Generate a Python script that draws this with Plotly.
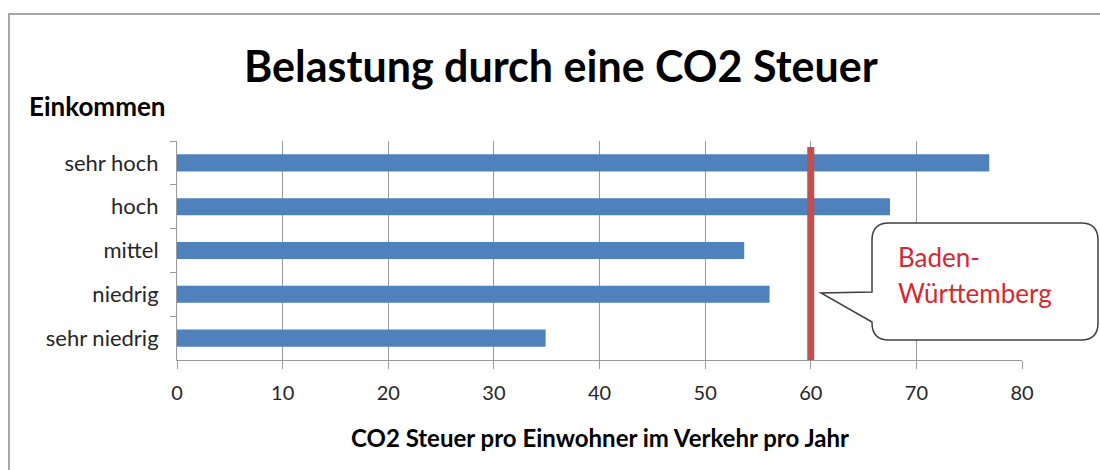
import plotly.graph_objects as go

# Income groups, top to bottom, and CO2 tax per inhabitant (transport, per year)
income_groups = ["sehr hoch", "hoch", "mittel", "niedrig", "sehr niedrig"]
co2_tax = [76.9, 67.5, 53.7, 56.1, 34.9]

# Reference value for the state average
bw_label = ["Baden-", "Württemberg"]
bw_value = 60

x_ticks = [0, 10, 20, 30, 40, 50, 60, 70, 80]

W, H = 1100, 470
L, R, T, B = 177, 78, 141, 110
PW, PH = W - L - R, H - T - B

FONT = "Lato"
BAR_BLUE = "#4f81bd"
LINE_RED = "#c0504d"
GRID = "#9a9a9a"


def px(x):
    return (x - L) / PW


def py(y):
    return (H - B - y) / PH


fig = go.Figure()
fig.add_trace(go.Bar(
    x=co2_tax, y=income_groups, orientation="h",
    marker=dict(color=BAR_BLUE, line=dict(width=0)),
    width=0.39, hoverinfo="x+y",
))

shapes = []

# outer chart frame
shapes.append(dict(type="rect", xref="paper", yref="paper",
                   x0=px(9), x1=px(1110), y0=py(14), y1=py(480),
                   line=dict(color="#a6a6a6", width=2), fillcolor="rgba(0,0,0,0)",
                   layer="below"))

# vertical reference line at the state value
shapes.append(dict(type="line", xref="x", yref="paper",
                   x0=bw_value, x1=bw_value, y0=0, y1=py(147),
                   line=dict(color=LINE_RED, width=7), layer="above"))

# speech-bubble callout
bx0, bx1, by0, by1, r = 872, 1098, 223, 340, 17
tip_y0, tip_y1, tip = 292, 322, (821, 293)
pts = [
    ("M", bx0 + r, by0),
    ("L", bx1 - r, by0),
    ("Q", bx1, by0, bx1, by0 + r),
    ("L", bx1, by1 - r),
    ("Q", bx1, by1, bx1 - r, by1),
    ("L", bx0 + r, by1),
    ("Q", bx0, by1, bx0, by1 - r),
    ("L", bx0, tip_y1),
    ("L", tip[0], tip[1]),
    ("L", bx0, tip_y0),
    ("L", bx0, by0 + r),
    ("Q", bx0, by0, bx0 + r, by0),
]
path = ""
for p in pts:
    cmd, coords = p[0], p[1:]
    xy = []
    for i in range(0, len(coords), 2):
        xy.append(f"{px(coords[i]):.5f},{py(coords[i + 1]):.5f}")
    path += cmd + " ".join(xy) + " "
path += "Z"
shapes.append(dict(type="path", xref="paper", yref="paper", path=path,
                   fillcolor="white", line=dict(color="#404040", width=1.5),
                   layer="above"))

annotations = [
    dict(text="<b>Belastung durch eine CO2 Steuer</b>", x=px(561), y=py(66),
         xref="paper", yref="paper", showarrow=False,
         font=dict(family=FONT, size=43, color="black"),
         xanchor="center", yanchor="middle"),
    dict(text="<b>Einkommen</b>", x=px(27), y=py(106),
         xref="paper", yref="paper", showarrow=False,
         font=dict(family=FONT, size=26, color="black"),
         xanchor="left", yanchor="middle"),
    dict(text="<b>CO2 Steuer pro Einwohner im Verkehr pro Jahr</b>", x=px(600), y=py(437),
         xref="paper", yref="paper", showarrow=False,
         font=dict(family=FONT, size=24, color="black"),
         xanchor="center", yanchor="middle"),
    dict(text=bw_label[0], x=px(896), y=py(257),
         xref="paper", yref="paper", showarrow=False,
         font=dict(family=FONT, size=26, color="#d7282f"),
         xanchor="left", yanchor="middle"),
    dict(text=bw_label[1], x=px(896), y=py(293),
         xref="paper", yref="paper", showarrow=False,
         font=dict(family=FONT, size=26, color="#d7282f"),
         xanchor="left", yanchor="middle"),
]

fig.update_layout(
    width=W, height=H,
    margin=dict(l=L, r=R, t=T, b=B, pad=0),
    paper_bgcolor="white", plot_bgcolor="white",
    showlegend=False,
    shapes=shapes,
    annotations=annotations,
    font=dict(family=FONT, color="#262626"),
    xaxis=dict(
        range=[0, 80], tickvals=x_ticks, ticktext=[str(v) for v in x_ticks],
        showgrid=True, gridcolor=GRID, gridwidth=1,
        showline=True, linecolor=GRID, linewidth=1,
        ticks="outside", ticklen=8, tickcolor=GRID,
        tickfont=dict(family=FONT, size=20, color="#262626"),
        ticklabelstandoff=7,
        zeroline=False, fixedrange=True,
    ),
    yaxis=dict(
        type="category", categoryorder="array", categoryarray=income_groups,
        autorange="reversed", tickson="boundaries",
        showgrid=False, showline=True, linecolor=GRID, linewidth=1,
        ticks="outside", ticklen=6, tickcolor=GRID,
        tickfont=dict(family=FONT, size=22, color="#262626"),
        ticklabelstandoff=13,
        zeroline=False, fixedrange=True,
    ),
)

fig.write_html("out.html", config={"displayModeBar": False})
